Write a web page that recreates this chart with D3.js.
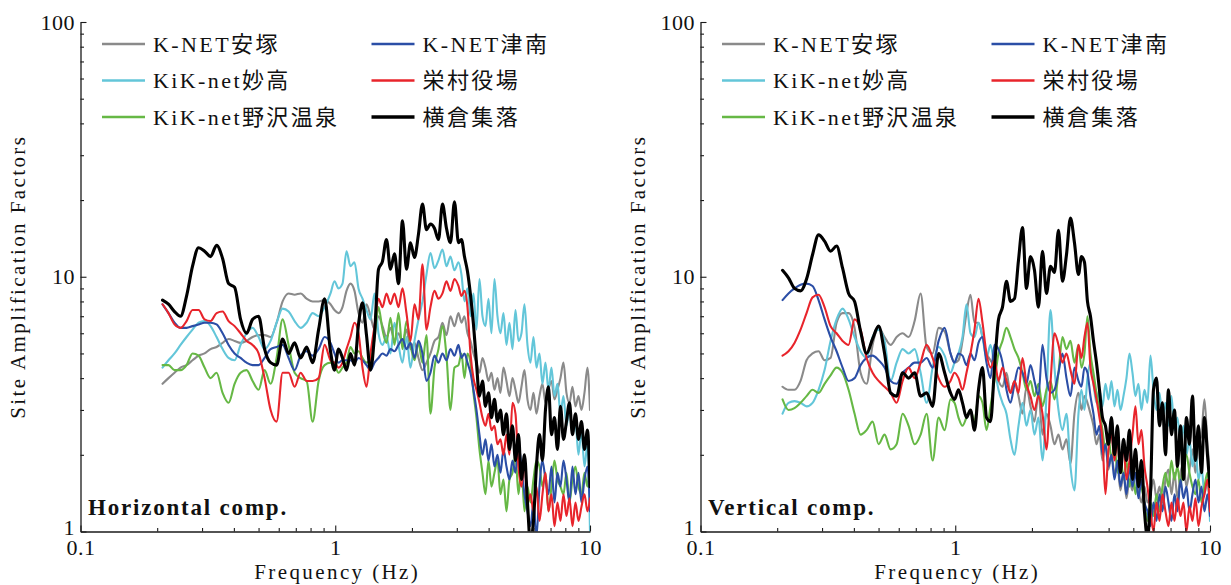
<!DOCTYPE html>
<html>
<head>
<meta charset="utf-8">
<script src="https://cdn.jsdelivr.net/npm/d3@7"></script>
<style>
  html, body { margin: 0; padding: 0; background: #fff; }
  svg { display: block; }
</style>
</head>
<body>
<svg id="chart" width="1231" height="585"></svg>
<script>
// ---------------------------------------------------------------------------
// Data: site amplification factors of six stations, horizontal and vertical
// ---------------------------------------------------------------------------
const freqHz = [
  0.2099,0.2215,0.2339,0.2470,0.2608,0.2753,0.2907,0.3069,0.3240,0.3421,0.3612,0.3813,0.4026,0.4250,0.4487,
  0.4737,0.5002,0.5280,0.5575,0.5886,0.6214,0.6560,0.6926,0.7312,0.7720,0.8150,0.8604,0.9084,0.9580,
  0.9932,1.0298,1.0677,1.1070,1.1477,1.1900,1.2338,1.2792,1.3263,1.3751,1.4257,1.4782,1.5326,1.5890,1.6475,
  1.7081,1.7710,1.8362,1.9037,1.9738,2.0464,2.1217,2.1998,2.2808,2.3647,2.4517,2.5420,2.6355,2.7325,2.8331,
  2.9374,3.0455,
  3.1292,3.2152,3.3036,3.3944,3.4877,3.5836,3.6821,3.7833,3.8873,3.9941,4.1039,4.2167,4.3326,4.4517,4.5741,
  4.6998,4.8290,4.9617,5.0981,5.2382,5.3822,5.5301,5.6821,5.8383,5.9988,6.1637,6.3331,6.5072,6.6860,6.8698,
  7.0586,7.2527,7.4520,7.6568,7.8673,8.0835,8.3057,8.5340,8.7686,9.0096,9.2572,9.5117,9.7731,10.0
];

const stationNames = ["K-NET安塚", "KiK-net妙高", "KiK-net野沢温泉", "K-NET津南", "栄村役場", "横倉集落"];
const panelTitles = ["Horizontal comp.", "Vertical comp."];

const xMajorTicks = [0.1, 1, 10];
const xMajorLabels = ["0.1", "1", "10"];
const xMinorTicks = [0.2,0.3,0.4,0.5,0.6,0.7,0.8,0.9,2,3,4,5,6,7,8,9];
const yMajorTicks = [1, 10, 100];
const yMajorLabels = ["1", "10", "100"];
const yMinorTicks = [2,3,4,5,6,7,8,9,20,30,40,50,60,70,80,90];

// Horizontal component
const hAnzuka = [
  3.8,4.0,4.2,4.4,4.5,4.7,4.9,5.0,5.2,5.3,5.5,5.7,5.6,5.5,5.6,5.8,5.9,5.9,5.8,6.6,8.0,8.6,8.5,8.6,8.2,8.0,8.0,8.1,7.8,
  7.4,7.2,7.6,8.8,9.4,8.8,7.2,6.6,7.8,7.0,6.2,7.0,6.4,5.8,6.3,5.6,6.0,5.5,6.2,5.2,5.5,4.8,4.3,4.6,5.0,5.6,5.8,6.6,5.9,7.0,6.4,7.2,
  6.6,7.0,6.0,5.6,5.0,4.6,4.2,4.8,4.4,3.9,4.2,3.6,4.0,3.5,4.4,3.9,3.4,4.0,3.6,3.2,3.7,4.3,3.3,3.0,3.5,2.9,3.4,3.8,3.2,3.6,
  3.9,3.3,3.6,4.0,4.6,3.5,3.2,3.7,3.1,3.4,3.0,3.5,4.4,3.0
];
const hMyoko = [
  4.4,4.7,5.0,5.4,5.8,6.2,6.6,6.7,6.4,5.8,5.2,4.8,4.7,5.4,6.0,6.3,5.8,5.2,5.6,6.6,7.5,7.3,6.7,6.3,6.6,7.2,7.0,7.6,8.6,
  9.6,9.0,9.4,12.6,11.0,11.4,9.0,8.2,7.4,6.8,8.6,6.0,5.4,5.8,5.0,6.6,5.4,4.6,5.8,4.4,5.6,6.8,8.0,10.2,12.4,10.8,11.6,12.8,11.0,12.0,10.6,11.4,
  10.2,8.0,9.0,7.0,8.6,6.2,9.8,7.0,6.4,8.2,6.0,9.8,7.0,6.0,7.2,5.4,6.6,5.2,7.4,5.6,6.0,7.8,5.4,4.6,5.8,4.4,5.0,3.8,4.6,3.6,
  4.4,3.4,3.8,2.9,3.4,2.6,3.0,2.4,2.7,2.0,2.5,1.8,2.2,1.0
];
const hNozawa = [
  4.5,4.5,4.3,4.3,4.5,5.0,4.9,4.4,4.0,4.2,3.5,3.2,3.8,4.2,4.3,3.9,3.6,4.3,3.8,4.8,6.8,5.4,4.2,4.0,3.9,2.7,3.9,4.5,4.6,
  4.5,4.2,4.4,4.6,5.3,5.0,5.1,4.8,4.6,4.7,5.7,7.6,6.2,5.5,6.9,5.4,7.2,5.2,6.7,5.4,4.7,5.5,4.6,5.9,2.9,4.4,5.2,6.4,4.9,3.0,4.4,4.5,
  5.0,4.0,5.0,4.6,3.5,2.8,2.1,1.7,1.4,1.9,1.5,1.7,1.9,1.4,1.6,1.2,1.6,1.7,2.0,1.4,1.8,1.2,1.5,1.3,1.6,1.9,1.8,1.5,1.7,1.2,
  1.5,1.9,1.6,1.5,1.4,1.7,1.3,1.6,1.8,1.5,1.4,1.7,1.5,2.0
];
const hTsunan = [
  7.8,7.2,6.6,6.3,6.3,6.4,6.5,6.6,6.6,6.5,6.0,5.4,5.0,4.8,4.6,4.5,4.5,4.8,5.2,5.3,5.4,4.8,4.3,4.9,5.1,4.9,5.2,5.8,5.5,
  5.0,4.6,4.7,4.7,4.7,4.6,4.8,4.7,4.5,4.3,4.6,4.8,5.0,4.9,5.2,5.1,5.4,5.7,5.2,5.5,4.8,5.6,5.0,3.9,4.2,4.9,4.6,5.0,4.7,5.2,4.9,5.4,
  4.8,5.0,4.6,4.2,3.6,3.0,2.4,2.0,2.3,1.9,2.2,1.8,2.0,1.7,2.1,1.8,1.6,1.9,1.7,2.2,1.8,1.4,1.2,1.05,1.3,0.95,1.5,1.9,1.6,1.4,
  1.8,1.3,1.7,1.5,1.9,1.6,1.3,1.8,1.4,1.7,1.3,1.6,1.8,1.2
];
const hSakae = [
  7.8,7.2,6.5,6.3,6.7,7.4,7.4,6.8,6.7,7.2,7.3,6.7,6.4,6.0,5.6,5.4,5.0,4.0,3.0,2.7,4.2,4.2,3.7,4.2,3.9,3.9,4.0,5.4,4.7,
  4.6,4.4,4.6,5.2,5.8,6.6,6.0,4.4,3.7,5.0,6.4,8.2,7.6,8.6,7.8,8.6,7.6,9.0,7.2,5.6,7.8,6.8,11.2,6.2,7.6,8.8,8.2,8.6,9.6,8.8,9.8,9.2,
  8.4,8.8,7.6,5.0,4.0,3.6,3.2,2.8,2.6,2.9,2.5,2.6,2.2,2.3,2.0,2.4,2.0,3.2,2.9,1.8,1.5,1.9,1.3,1.4,1.2,1.5,1.1,1.4,1.7,1.2,
  1.4,1.05,1.3,1.1,1.4,1.15,1.35,1.05,1.3,1.1,1.25,1.4,1.2,1.35
];
const hYokokura = [
  8.1,7.8,7.3,7.0,8.4,11.0,13.0,12.6,12.0,13.3,11.8,9.4,9.1,6.8,6.0,6.8,7.0,5.2,4.6,4.5,5.7,5.0,5.5,4.8,5.3,4.6,6.2,8.2,5.1,
  4.3,5.2,4.8,4.3,5.0,4.5,6.5,7.9,5.9,4.3,5.9,10.7,11.5,14.0,10.7,12.3,9.4,16.6,10.7,13.6,11.9,14.7,19.3,15.3,16.1,15.5,14.0,19.3,15.5,13.6,19.7,13.6,
  14.0,12.0,10.5,8.5,6.5,4.6,3.4,3.9,3.1,3.5,2.8,3.3,2.7,3.0,2.4,2.9,2.1,2.6,1.9,2.4,1.6,2.0,1.3,0.9,1.1,1.8,2.4,1.9,3.0,3.7,
  2.4,2.8,2.1,3.1,2.3,2.7,3.2,2.4,2.9,2.3,2.7,2.1,2.5,1.5
];

// Vertical component
const vAnzuka = [
  3.7,3.6,3.6,3.9,4.7,5.0,5.1,4.7,4.8,6.6,7.2,7.2,6.3,4.2,3.8,5.4,6.3,5.8,5.4,5.8,6.0,5.8,6.7,8.6,5.3,5.0,6.3,6.1,5.0,
  4.6,4.7,5.6,7.2,8.5,6.6,6.6,5.8,5.0,4.7,4.4,3.9,3.7,4.2,3.5,3.9,3.4,2.9,3.7,3.1,2.7,3.5,2.4,2.9,2.6,2.2,2.4,2.1,2.3,1.85,2.9,3.5,
  3.0,3.4,3.2,2.9,2.6,2.2,2.4,1.9,2.2,1.75,2.0,1.7,1.8,1.45,1.7,1.35,1.6,1.45,1.7,1.45,1.3,1.5,1.3,1.4,1.6,1.35,1.5,1.3,1.6,1.75,
  1.4,1.7,1.35,1.7,1.85,1.5,1.75,2.1,1.7,2.2,2.4,3.3,2.2,1.7
];
const vMyoko = [
  2.9,3.2,3.25,3.2,3.1,3.2,3.6,4.3,5.6,6.8,7.5,6.8,5.8,5.1,4.8,5.8,6.2,5.6,3.9,4.6,5.2,5.0,5.2,4.2,3.2,4.4,5.3,4.9,4.2,
  4.6,5.0,5.8,7.8,6.0,5.8,6.6,5.8,4.8,5.4,4.4,3.6,3.2,2.9,2.3,2.0,2.6,3.2,2.6,3.0,2.4,2.8,1.9,3.4,7.4,4.4,3.0,2.5,2.9,1.8,1.45,2.9,
  3.6,3.0,4.0,4.6,3.8,3.2,3.6,3.1,3.8,3.3,3.9,3.1,3.6,3.0,3.4,4.0,5.0,4.2,3.4,3.8,3.0,3.6,3.2,4.9,3.6,3.0,3.5,2.8,3.2,2.6,
  3.4,2.5,2.8,2.2,2.6,2.0,2.3,1.8,2.1,1.6,1.8,1.4,1.6,1.1
];
const vNozawa = [
  3.3,3.0,3.05,3.2,3.4,3.6,3.5,3.8,4.1,4.4,4.2,3.6,2.9,2.4,2.5,2.7,2.2,2.4,2.1,2.2,2.9,2.6,2.2,2.4,2.9,1.9,2.8,2.5,3.3,
  3.2,2.8,2.6,2.8,3.0,2.7,3.4,3.2,2.5,3.1,3.9,5.0,5.6,6.3,5.8,5.2,4.8,4.2,3.6,3.9,3.4,3.8,3.1,3.6,3.9,3.3,4.2,5.8,5.2,5.6,4.6,5.4,
  4.4,5.0,7.0,5.0,4.2,3.5,3.0,2.5,2.1,2.4,1.9,2.2,1.7,2.0,1.6,1.9,1.5,1.8,1.4,1.7,1.5,1.3,1.1,1.3,1.15,1.4,1.2,1.5,1.7,1.5,
  1.9,1.6,1.8,1.5,1.9,2.0,1.7,1.5,1.4,1.6,1.3,1.5,1.7,1.3
];
const vTsunan = [
  8.1,8.6,9.0,9.3,9.4,9.2,8.1,6.8,5.8,5.1,4.4,3.9,4.0,4.5,4.8,4.9,4.7,4.4,3.9,3.8,4.2,4.4,4.6,4.6,4.8,4.4,5.6,6.3,5.0,
  4.6,5.0,4.9,4.5,5.0,4.7,5.5,5.8,4.6,4.0,5.4,5.2,4.6,3.6,3.2,3.8,4.4,4.2,3.8,4.5,3.9,3.4,5.4,4.0,3.5,3.6,4.2,5.0,4.0,3.4,4.4,3.9,
  3.7,4.4,4.2,3.4,2.9,2.4,2.6,2.0,2.2,1.8,2.0,1.6,1.9,1.5,1.7,1.4,1.8,1.5,1.7,1.35,1.6,1.3,1.2,1.05,1.3,1.1,1.4,1.2,1.5,1.3,
  1.1,1.4,1.2,1.6,1.35,1.5,1.2,1.4,1.6,1.3,1.5,1.2,1.4,1.15
];
const vSakae = [
  4.9,5.1,5.5,6.2,7.2,8.3,8.5,7.6,6.4,6.0,5.6,5.4,6.8,6.2,4.8,4.2,3.9,3.7,3.5,3.2,3.9,4.4,4.0,4.6,5.4,4.8,4.0,3.7,3.9,
  4.2,4.0,3.6,4.2,5.0,6.2,8.2,6.6,5.0,4.4,4.7,3.9,4.4,3.9,3.5,3.9,3.5,4.8,3.8,3.4,3.0,3.4,2.9,2.1,3.8,6.0,5.4,4.6,5.0,4.3,3.8,5.4,
  4.8,5.8,6.6,4.4,3.8,3.3,2.8,2.3,1.4,2.1,2.4,1.9,2.3,1.7,2.2,1.6,1.9,2.4,3.1,2.2,2.5,1.8,1.5,1.2,1.0,1.3,1.1,1.4,1.2,1.05,
  1.3,1.1,1.35,1.15,1.3,1.0,1.25,1.1,1.35,1.05,1.25,1.4,1.6,1.2
];
const vYokokura = [
  10.6,9.9,9.0,8.8,9.8,12.2,14.6,13.8,12.6,13.2,10.8,8.6,8.0,6.1,5.0,5.7,6.4,5.0,3.5,3.4,4.2,4.0,4.2,3.4,3.5,3.1,5.0,4.2,3.5,
  3.3,3.6,3.2,2.8,3.0,2.5,3.6,4.4,2.8,2.7,4.4,6.8,7.6,9.6,8.0,8.2,11.6,15.6,9.0,12.0,10.6,7.6,12.6,8.6,11.0,10.4,15.2,9.6,12.2,17.0,13.6,10.2,
  12.0,11.4,8.0,7.0,5.6,4.6,3.6,2.8,2.6,2.2,2.8,2.0,2.6,1.7,2.3,1.9,2.5,1.6,2.1,1.5,1.9,1.2,0.95,1.4,3.6,4.0,2.6,3.2,2.0,3.6,
  2.4,3.0,1.8,2.6,1.6,2.8,2.2,3.4,1.9,2.6,1.7,2.8,2.0,1.5
];

// ---------------------------------------------------------------------------
// Drawing
// ---------------------------------------------------------------------------
const svg = d3.select("#chart");

const plotTop = 22, plotBottom = 531.5, plotWidth = 509.5;
const serif = "'Liberation Serif', 'Times New Roman', 'Noto Sans CJK JP', serif";
const lineColors = ["#8a8a8a", "#63c6d9", "#66b845", "#2b4ea6", "#e8242b", "#000000"];
const lineWidths = [2.1, 2.1, 2.1, 2.1, 2.1, 3.1];

const panels = [
  { x0: 80.5,  title: panelTitles[0], series: [hAnzuka, hMyoko, hNozawa, hTsunan, hSakae, hYokokura] },
  { x0: 700.5, title: panelTitles[1], series: [vAnzuka, vMyoko, vNozawa, vTsunan, vSakae, vYokokura] }
];

// legend slots: two columns, three rows
const legendSlots = [
  { col: 0, row: 0 }, { col: 0, row: 1 }, { col: 0, row: 2 },
  { col: 1, row: 0 }, { col: 1, row: 1 }, { col: 1, row: 2 }
];
const legendColX = [21.5, 291];
const legendRowY = [44, 80.5, 117];

panels.forEach((p, pi) => {
  const x = d3.scaleLog().domain([0.1, 10]).range([p.x0, p.x0 + plotWidth]);
  const y = d3.scaleLog().domain([1, 100]).range([plotBottom, plotTop]);
  const g = svg.append("g");

  const clipId = "plot-clip-" + pi;
  svg.append("clipPath").attr("id", clipId)
    .append("rect")
    .attr("x", p.x0).attr("y", plotTop)
    .attr("width", plotWidth).attr("height", plotBottom - plotTop);

  // curves
  const line = d3.line()
    .x(d => x(d[0]))
    .y(d => y(d[1]))
    .curve(d3.curveMonotoneX);

  const curves = g.append("g").attr("clip-path", `url(#${clipId})`);
  p.series.forEach((vals, si) => {
    curves.append("path")
      .datum(freqHz.map((f, i) => [f, vals[i]]))
      .attr("fill", "none")
      .attr("stroke", lineColors[si])
      .attr("stroke-width", lineWidths[si])
      .attr("stroke-linejoin", "round")
      .attr("stroke-linecap", "round")
      .attr("d", line);
  });

  // axes
  const xAxis = g.append("g").attr("transform", `translate(0,${plotBottom})`)
    .call(d3.axisBottom(x).tickValues(xMajorTicks)
      .tickFormat((d, i) => xMajorLabels[i])
      .tickSize(-6).tickSizeOuter(0).tickPadding(8));
  g.append("g").attr("transform", `translate(0,${plotBottom})`)
    .call(d3.axisBottom(x).tickValues(xMinorTicks).tickFormat("")
      .tickSize(-3.5).tickSizeOuter(0))
    .call(a => a.select(".domain").remove());

  const yAxis = g.append("g").attr("transform", `translate(${p.x0},0)`)
    .call(d3.axisLeft(y).tickValues(yMajorTicks)
      .tickFormat((d, i) => yMajorLabels[i])
      .tickSize(-6).tickSizeOuter(0).tickPadding(5.5));
  g.append("g").attr("transform", `translate(${p.x0},0)`)
    .call(d3.axisLeft(y).tickValues(yMinorTicks).tickFormat("")
      .tickSize(-3.5).tickSizeOuter(0))
    .call(a => a.select(".domain").remove());

  g.selectAll(".domain").attr("stroke", "#1a1a1a").attr("stroke-width", 1.3);
  g.selectAll(".tick line").attr("stroke", "#1a1a1a").attr("stroke-width", 1.1);
  [xAxis, yAxis].forEach(a => a.attr("font-family", serif).attr("font-size", 22)
    .selectAll("text").attr("fill", "#111").attr("letter-spacing", "0.5px"));
  // the lowest y label sits just above the x-axis origin label
  yAxis.selectAll(".tick text").filter(d => d === 1).attr("dy", "0.12em");

  // axis titles
  g.append("text")
    .attr("x", p.x0 + plotWidth / 2 + 2).attr("y", 579)
    .attr("text-anchor", "middle")
    .attr("font-family", serif).attr("font-size", 21)
    .attr("letter-spacing", "2.4px").attr("fill", "#111")
    .text("Frequency (Hz)");

  g.append("text")
    .attr("transform", `translate(${p.x0 - 55.5},${(plotTop + plotBottom) / 2}) rotate(-90)`)
    .attr("text-anchor", "middle")
    .attr("font-family", serif).attr("font-size", 21)
    .attr("letter-spacing", "2.4px").attr("fill", "#111")
    .text("Site Amplification Factors");

  // component label
  g.append("text")
    .attr("x", p.x0 + 7.5).attr("y", 515)
    .attr("font-family", serif).attr("font-size", 23).attr("font-weight", "bold")
    .attr("letter-spacing", "1.8px").attr("fill", "#111")
    .text(p.title);

  // legend
  const legend = g.append("g");
  stationNames.forEach((name, si) => {
    const slot = legendSlots[si];
    const lx = p.x0 + legendColX[slot.col];
    const ly = legendRowY[slot.row];
    legend.append("line")
      .attr("x1", lx).attr("x2", lx + 43)
      .attr("y1", ly).attr("y2", ly)
      .attr("stroke", lineColors[si])
      .attr("stroke-width", lineWidths[si] + 0.3);
    legend.append("text")
      .attr("x", lx + 51).attr("y", ly + 7.5)
      .attr("font-family", serif).attr("font-size", 22)
      .attr("letter-spacing", "2.4px").attr("fill", "#111")
      .text(name);
  });
});
</script>
</body>
</html>
